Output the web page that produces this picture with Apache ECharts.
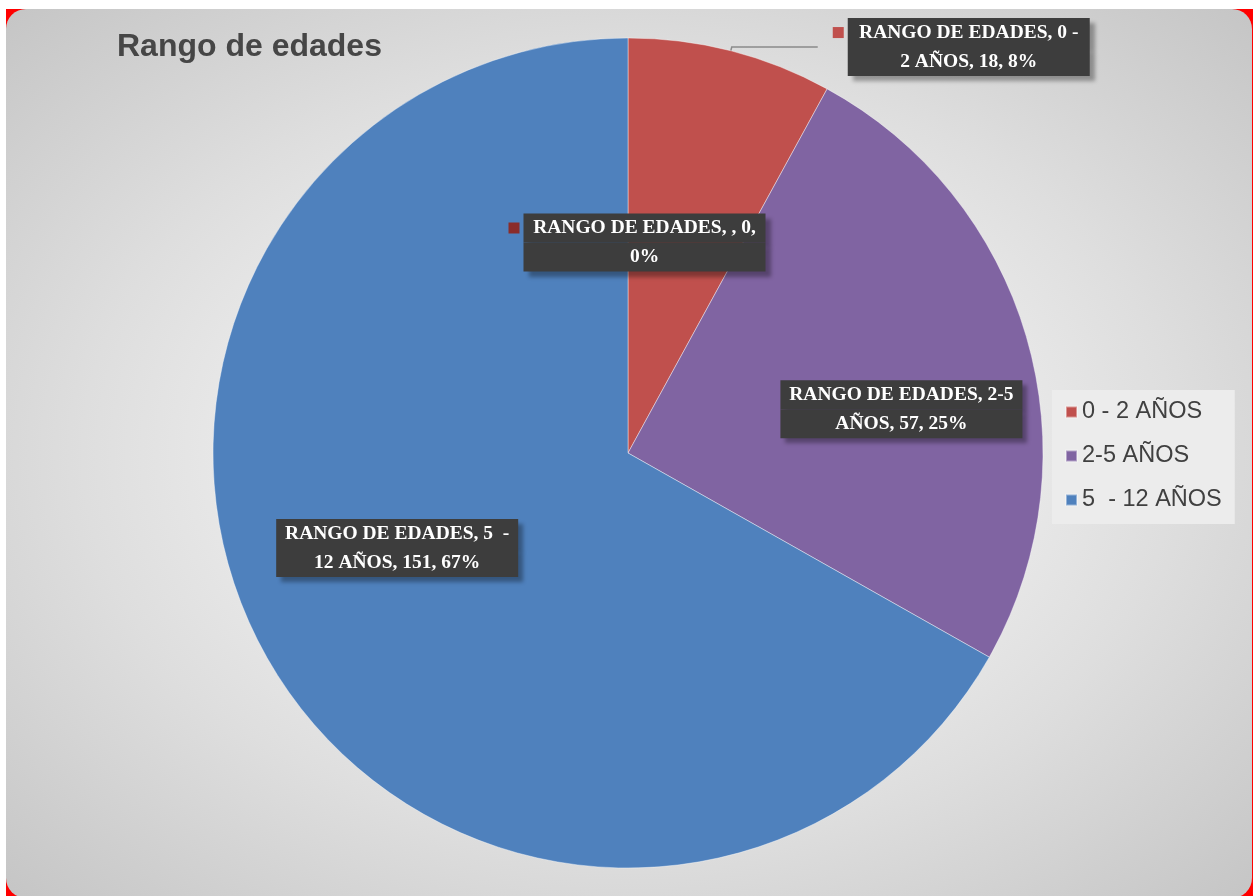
<!DOCTYPE html>
<html><head><meta charset="utf-8">
<script src="https://cdn.jsdelivr.net/npm/echarts@6/dist/echarts.min.js"></script>
<style>
html,body{margin:0;padding:0;background:#fff;width:1253px;height:896px;overflow:hidden;}
#red{position:absolute;left:6px;top:9px;width:1247px;height:887px;background:#ff0000;}
#panel{position:absolute;left:6px;top:9px;width:1246px;height:889px;border-radius:20px;
  background:radial-gradient(ellipse farthest-corner at 50% 50%, #f7f7f7 0%, #ebebeb 40%, #dedede 62%, #c5c5c5 100%);}
#chart{position:absolute;left:0;top:0;width:1253px;height:896px;}
</style></head><body>
<div id="red"></div><div id="panel"></div><div id="chart"></div>
<script>
const chartTitle = 'Rango de edades';
const seriesName = 'RANGO DE EDADES';
const categories = ['', '0 - 2 AÑOS', '2-5 AÑOS', '5  - 12 AÑOS'];
const values = [0, 18, 57, 151];
const legendItems = ['0 - 2 AÑOS', '2-5 AÑOS', '5  - 12 AÑOS'];

const sliceColors = ['#8A2C2A', '#C0504D', '#8064A2', '#4F81BD'];
const showKey = [true, true, false, false];
const labelShift = [[9, 0], null, [71, 14], [-49, -11]];

function wrap(s, max) {
  const lines = [];
  while (s.length > max) {
    let i = s.lastIndexOf(' ', max);
    if (i <= 0) i = max;
    lines.push(s.slice(0, i));
    s = s.slice(i + 1);
  }
  lines.push(s);
  return lines;
}

const data = categories.map((c, i) => {
  const d = { name: c, value: values[i], itemStyle: { color: sliceColors[i] } };
  if (i === 1) {
    d.label = { position: 'outside', distanceToLabelLine: 15 };
    d.labelLine = { show: true, length: 4, length2: 86, smooth: false,
      lineStyle: { color: '#8a8a8a', width: 1.5 } };
  }
  return d;
});

const rich = {
  t: { width: 242, height: 29, lineHeight: 29, align: 'center', backgroundColor: '#3d3d3d',
       color: '#ffffff', fontFamily: 'Liberation Serif', fontWeight: 'bold', fontSize: 19.5,
       shadowColor: 'rgba(0,0,0,0.33)', shadowBlur: 4, shadowOffsetX: 5, shadowOffsetY: 5 },
  n: { width: 11, height: 11 },
  g: { width: 4 }
};
sliceColors.forEach((c, i) => { rich['m' + i] = { width: 11, height: 11, backgroundColor: c }; });

const chart = echarts.init(document.getElementById('chart'), null, { renderer: 'canvas' });
chart.setOption({
  animation: false,
  backgroundColor: 'transparent',
  title: {
    text: chartTitle, left: 117, top: 31, padding: 0,
    textStyle: { fontFamily: 'Liberation Sans', fontWeight: 'bold', fontSize: 32, color: '#464646' }
  },
  legend: {
    data: legendItems, orient: 'vertical', left: 1052, top: 390,
    itemWidth: 11, itemHeight: 11, itemGap: 20, icon: 'rect', selectedMode: false,
    padding: [10, 13, 12, 13], backgroundColor: '#ececec',
    textStyle: { fontFamily: 'Liberation Sans', fontSize: 23.5, color: '#404040', lineHeight: 22 }
  },
  series: [{
    type: 'pie',
    name: seriesName,
    center: [628, 453],
    radius: 415,
    startAngle: 90,
    clockwise: true,
    avoidLabelOverlap: false,
    silent: true,
    itemStyle: { borderColor: 'rgba(255,255,255,0.4)', borderWidth: 1 },
    label: {
      show: true, position: 'inside',
      fontFamily: 'Liberation Serif', fontWeight: 'bold', fontSize: 19.5, color: '#fff',
      formatter: function (p) {
        const txt = p.seriesName + ', ' + p.name + ', ' + p.value + ', ' + Math.round(p.percent) + '%';
        const lines = wrap(txt, 21);
        return lines.map((l, k) => {
          if (showKey[p.dataIndex]) {
            return (k === 0 ? '{m' + p.dataIndex + '| }' : '{n| }') + '{g| }{t|' + l + '}';
          }
          return '{t|' + l + '}';
        }).join('\n');
      },
      rich: rich
    },
    labelLine: { show: false },
    labelLayout: function (p) {
      const o = labelShift[p.dataIndex];
      return o ? { dx: o[0], dy: o[1] } : {};
    },
    data: data
  }]
});
</script>
</body></html>
